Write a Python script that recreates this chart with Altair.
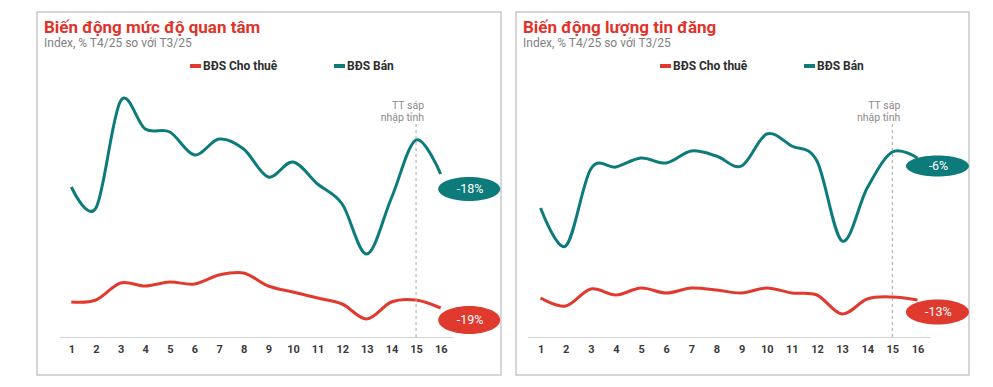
import altair as alt
import pandas as pd

positions = list(range(1, 17))
series_names = ["BĐS Cho thuê", "BĐS Bán"]

left_title = "Biến động mức độ quan tâm"
right_title = "Biến động lượng tin đăng"
subtitle = "Index, % T4/25 so với T3/25"
annotation = ["TT sáp", "nhập tỉnh"]

# index values (arbitrary units)
left_rent = [35, 37, 54, 51, 55, 53, 62, 64, 51, 45, 39, 33, 18, 35, 37, 29]
left_sale = [150, 129, 236, 208, 205, 182, 198, 188, 160, 175, 153, 133, 83, 139, 197, 163]
right_rent = [39, 31, 48, 42, 49, 44, 49, 47, 44, 49, 44, 42, 23, 38, 40, 37]
right_sale = [129, 91, 168, 170, 179, 174, 186, 181, 171, 203, 191, 176, 96, 149, 185, 179]

left_change = ["-19%", "-18%"]
right_change = ["-13%", "-6%"]
left_label_level = [17, 148]
right_label_level = [25, 171]

RED = "#e03a2e"
TEAL = "#0e7b7b"
FONT = "Roboto"


def panel(title, rent, sale, change, label_level, width, xrange, lab_dx,
          ell_w, ell_h, legend_x):
    height = 363
    xs = alt.Scale(domain=[0.5, 16.5], range=xrange, nice=False, zero=False)
    ys = alt.Scale(domain=[0, 325], range=[325, 0], nice=False, zero=False)
    x_axis = alt.Axis(values=positions, offset=-38, grid=False, ticks=False,
                      domainColor="#d4d4d4", domainWidth=1, labelFontSize=11,
                      labelColor="#3a3a3a", labelFont=FONT, labelFontWeight="bold",
                      labelPadding=6, format="d", labelOverlap=False,
                      labelFlush=False, title=None)

    def X(field):
        return alt.X(field, scale=xs, axis=x_axis, title=None)

    df = pd.DataFrame({
        "x": positions * 2,
        "v": rent + sale,
        "s": [series_names[0]] * 16 + [series_names[1]] * 16,
    })
    color = alt.Color("s:N", scale=alt.Scale(domain=series_names, range=[RED, TEAL]), legend=None)

    lines = alt.Chart(df).mark_line(interpolate="cardinal", strokeWidth=3).encode(
        x=X("x:Q"),
        y=alt.Y("v:Q", scale=ys, axis=None),
        color=color,
    )

    rule = alt.Chart(pd.DataFrame({"x": [15], "y": [0], "y2": [213]})).mark_rule(
        strokeDash=[3, 3], color="#a8a8a8", strokeWidth=1
    ).encode(x=X("x:Q"), y=alt.Y("y:Q", scale=ys), y2="y2:Q")

    ann_layers = []
    for txt, lvl in zip(annotation, [231, 219]):
        ann_layers.append(
            alt.Chart(pd.DataFrame({"x": [15], "t": [txt]})).mark_text(
                align="right", baseline="middle", fontSize=10.5, font=FONT,
                color="#8a8a8a", xOffset=8
            ).encode(x=X("x:Q"), y=alt.datum(lvl), text="t:N")
        )

    label_layers = []
    for i in range(2):
        r = ell_h[i] / ell_w[i]
        path = f"M -1 0 A 1 {r:.4f} 0 1 0 1 0 A 1 {r:.4f} 0 1 0 -1 0 Z"
        ldf = pd.DataFrame({"x": [16], "v": [label_level[i]], "t": [change[i]]})
        col = RED if i == 0 else TEAL
        label_layers.append(
            alt.Chart(ldf).mark_point(shape=path, size=ell_w[i] ** 2, filled=True,
                                      opacity=1, color=col, xOffset=lab_dx, strokeWidth=0)
            .encode(x=X("x:Q"), y=alt.Y("v:Q", scale=ys))
        )
        label_layers.append(
            alt.Chart(ldf).mark_text(color="white", fontSize=12.5, font=FONT,
                                     xOffset=lab_dx + 1, baseline="middle")
            .encode(x=X("x:Q"), y=alt.Y("v:Q", scale=ys), text="t:N")
        )

    title_t = alt.Chart(pd.DataFrame({"t": [title]})).mark_text(
        align="left", baseline="alphabetic", fontSize=17, fontWeight="bold",
        font=FONT, color="#e0342a"
    ).encode(x=alt.value(7), y=alt.value(21), text="t:N")
    sub_t = alt.Chart(pd.DataFrame({"t": [subtitle]})).mark_text(
        align="left", baseline="alphabetic", fontSize=12, font=FONT, color="#7f7f7f"
    ).encode(x=alt.value(7), y=alt.value(35), text="t:N")

    leg_layers = []
    for i, name in enumerate(series_names):
        col = RED if i == 0 else TEAL
        lx = legend_x[i]
        ldf = pd.DataFrame({"t": [name]})
        leg_layers.append(
            alt.Chart(ldf).mark_rule(color=col, strokeWidth=4).encode(
                x=alt.value(lx), x2=alt.value(lx + 11), y=alt.value(54))
        )
        leg_layers.append(
            alt.Chart(ldf).mark_text(align="left", baseline="middle", fontSize=12,
                                     font=FONT, fontWeight="bold", color="#2e2e2e")
            .encode(x=alt.value(lx + 13), y=alt.value(54), text="t:N")
        )

    return alt.layer(lines, rule, *ann_layers, *label_layers, title_t, sub_t,
                     *leg_layers).properties(width=width, height=height)


left = panel(left_title, left_rent, left_sale, left_change, left_label_level,
             464, [22, 416], 28.5, [62, 62], [28, 24], [153, 297])
right = panel(right_title, right_rent, right_sale, right_change, right_label_level,
              453, [12, 414], 20, [63, 63], [25, 21], [144, 288])

chart = alt.hconcat(left, right, spacing=13).properties(
    padding={"left": 28, "top": 3, "right": 0, "bottom": 0}
).configure_view(stroke="#c9c9c9", strokeWidth=1.5)

chart.save("out.html", embed_options={"renderer": "svg", "actions": False})
